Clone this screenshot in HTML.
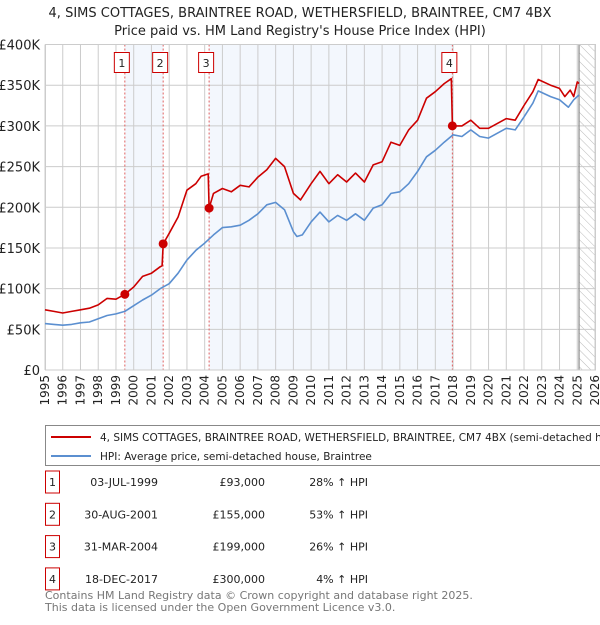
<!DOCTYPE html>
<html><head><meta charset="utf-8"><style>
body{margin:0;background:#fff;width:600px;height:620px;overflow:hidden;font-family:"Liberation Sans","DejaVu Sans",sans-serif;}
svg text{font-family:"DejaVu Sans","Liberation Sans",sans-serif;}
</style></head><body>
<svg id="chart" width="600" height="620" xmlns="http://www.w3.org/2000/svg">
<text x="300" y="17" text-anchor="middle" font-size="13" fill="#222">4, SIMS COTTAGES, BRAINTREE ROAD, WETHERSFIELD, BRAINTREE, CM7 4BX</text>
<text x="300" y="35" text-anchor="middle" font-size="13" fill="#222">Price paid vs. HM Land Registry's House Price Index (HPI)</text>
<defs><pattern id="hatch" width="6" height="6" patternUnits="userSpaceOnUse" patternTransform="rotate(-45)"><line x1="0" y1="0" x2="0" y2="6" stroke="#bbb" stroke-width="1"/></pattern></defs>
<g id="bands"></g><g id="grid"></g><g id="series"></g><g id="marks"></g>
<g>
<rect x="45.5" y="425.5" width="560" height="40" fill="#fff" stroke="#888"/>
<line x1="51" y1="437" x2="91" y2="437" stroke="#cc0000" stroke-width="2"/>
<text x="100" y="441" font-size="10.5" fill="#222">4, SIMS COTTAGES, BRAINTREE ROAD, WETHERSFIELD, BRAINTREE, CM7 4BX (semi-detached h</text>
<line x1="51" y1="456" x2="91" y2="456" stroke="#5b8fd0" stroke-width="2"/>
<text x="100" y="460" font-size="10.5" fill="#222">HPI: Average price, semi-detached house, Braintree</text>
</g>
<g id="table"></g>
<text x="45" y="599" font-size="11" fill="#777">Contains HM Land Registry data © Crown copyright and database right 2025.</text>
<text x="45" y="611" font-size="11" fill="#777">This data is licensed under the Open Government Licence v3.0.</text>
</svg>
<script>
const hpiYears=[1995,1995.5,1996,1996.5,1997,1997.5,1998,1998.5,1999,1999.5,2000,2000.5,2001,2001.5,2002,2002.5,2003,2003.5,2004,2004.5,2005,2005.5,2006,2006.5,2007,2007.5,2008,2008.5,2009,2009.2,2009.5,2010,2010.5,2011,2011.5,2012,2012.5,2013,2013.5,2014,2014.5,2015,2015.5,2016,2016.5,2017,2017.5,2018,2018.5,2019,2019.5,2020,2020.5,2021,2021.5,2022,2022.5,2022.8,2023.5,2024,2024.5,2024.8,2025.1];
const hpiValues=[57,56,55,56,58,59,63,67,69,72,79,86,92,100,106,119,135,147,156,166,175,176,178,184,192,203,206,197,170,164,166,182,194,182,190,184,192,184,199,203,217,219,229,244,262,270,280,289,287,295,287,285,291,297,295,311,328,343,336,332,323,332,338];
const redYears=[1995,1995.5,1996,1996.5,1997,1997.5,1998,1998.5,1999,1999.5,2000,2000.5,2001,2001.5,2001.6,2001.66,2002,2002.5,2003,2003.5,2003.8,2004.2,2004.25,2004.5,2005,2005.5,2006,2006.5,2007,2007.5,2008,2008.5,2009,2009.4,2010,2010.5,2011,2011.5,2012,2012.5,2013,2013.5,2014,2014.5,2015,2015.5,2016,2016.5,2017,2017.5,2017.9,2017.96,2018.5,2019,2019.5,2020,2020.5,2021,2021.5,2022,2022.5,2022.8,2023.5,2024,2024.3,2024.6,2024.8,2025,2025.1];
const redValues=[74,72,70,72,74,76,80,88,87,93,102,115,119,127,128,155,168,188,221,229,238,241,199,217,223,219,227,225,237,246,260,250,217,209,229,244,229,240,231,242,231,252,256,280,276,295,307,334,342,352,358,300,300,307,297,297,303,309,307,325,342,357,350,346,336,344,336,354,352];
const saleYears=[1999.5,2001.66,2004.25,2017.96];
const salePrices=[93,155,199,300];
const saleLabels=["1","2","3","4"];
const saleDates=["03-JUL-1999","30-AUG-2001","31-MAR-2004","18-DEC-2017"];
const salePriceText=["£93,000","£155,000","£199,000","£300,000"];
const saleHpiText=["28% ↑ HPI","53% ↑ HPI","26% ↑ HPI","4% ↑ HPI"];
const yTicks=[0,50,100,150,200,250,300,350,400];
const yTickLabels=["£0","£50K","£100K","£150K","£200K","£250K","£300K","£350K","£400K"];
const xTicks=[];for(let y=1995;y<=2026;y++)xTicks.push(y);

const X0=45,X1=595,Y0=370,Y1=44.5;
const xs=v=>X0+(v-1995)/(2026-1995)*(X1-X0);
const ys=v=>Y0-v/400*(Y0-Y1);
const NS="http://www.w3.org/2000/svg";
function mk(t,a,p){const e=document.createElementNS(NS,t);for(const k in a)e.setAttribute(k,a[k]);p.appendChild(e);return e;}
const bands=document.getElementById('bands'),grid=document.getElementById('grid'),series=document.getElementById('series'),marks=document.getElementById('marks'),table=document.getElementById('table');
let b=mk('rect',{x:X0,y:Y1,width:X1-X0,height:Y0-Y1,fill:'#fff'},bands);


[[0,1],[2,3]].forEach(([i,j])=>{const r=mk('rect',{x:xs(saleYears[i]),y:Y1,width:xs(saleYears[j])-xs(saleYears[i]),height:Y0-Y1,fill:'#eef3fc',opacity:0.7},bands);

});
let h=mk('rect',{x:xs(2025.1),y:Y1,width:X1-xs(2025.1),height:Y0-Y1,fill:'url(#hatch)'},bands);


xTicks.forEach(y=>{const l=mk('line',{x1:xs(y),x2:xs(y),y1:Y1,y2:Y0,stroke:'#ccc','stroke-width':1},grid);


const t=mk('text',{x:0,y:0,'font-size':12,fill:'#222','text-anchor':'end',transform:`translate(${xs(y)+4},${Y0+5}) rotate(-90)`},grid);t.textContent=y;

});
yTicks.forEach((v,i)=>{const l=mk('line',{x1:X0,x2:X1,y1:ys(v),y2:ys(v),stroke:'#ccc','stroke-width':1},grid);


const t=mk('text',{x:40,y:ys(v)+5,'font-size':13,fill:'#222','text-anchor':'end'},grid);t.textContent=yTickLabels[i];

});
let vl=mk('line',{x1:xs(2025.1),x2:xs(2025.1),y1:Y1,y2:Y0,stroke:'#888','stroke-width':1.2},grid);


saleYears.forEach((y,i)=>{const l=mk('line',{x1:xs(y),x2:xs(y),y1:Y1,y2:Y0,stroke:'#e06060','stroke-width':1,'stroke-dasharray':'2,2'},grid);

});
function path(xa,va,col,name){const d=xa.map((x,i)=>(i?'L':'M')+xs(x).toFixed(1)+','+ys(va[i]).toFixed(1)).join('');const p=mk('path',{d,fill:'none',stroke:col,'stroke-width':1.6,'stroke-linejoin':'round'},series);

}
path(hpiYears,hpiValues,'#5b8fd0','hpi-line');
path(redYears,redValues,'#cc0000','property-price-line');
saleYears.forEach((y,i)=>{const c=mk('circle',{cx:xs(y),cy:ys(salePrices[i]),r:4.5,fill:'#cc0000'},marks);


const bx=xs(y)-3;const r=mk('rect',{x:bx-7.5,y:52.5,width:15,height:20,fill:'#fff',stroke:'#cc0000'},marks);


const t=mk('text',{x:bx,y:67,'font-size':11,'text-anchor':'middle',fill:'#222'},marks);t.textContent=saleLabels[i];


const cy=482+i*32.3;
const tr=mk('rect',{x:45.5,y:cy-11,width:14,height:22,fill:'#fff',stroke:'#cc0000'},table);


const cols=[[52.5,saleLabels[i],'middle','table-row-number'],[158,saleDates[i],'end','table-row-date'],[265,salePriceText[i],'end','table-row-price'],[368,saleHpiText[i],'end','table-row-hpi-change']];
cols.forEach(([x,s,a,n])=>{const e=mk('text',{x,y:cy+4,'font-size':11,'text-anchor':a,fill:'#222'},table);e.textContent=s;

});});
let f=mk('rect',{x:X0+0.5,y:Y1,width:X1-X0,height:Y0-Y1,fill:'none',stroke:'#ccc'},grid);


</script>
</body></html>
